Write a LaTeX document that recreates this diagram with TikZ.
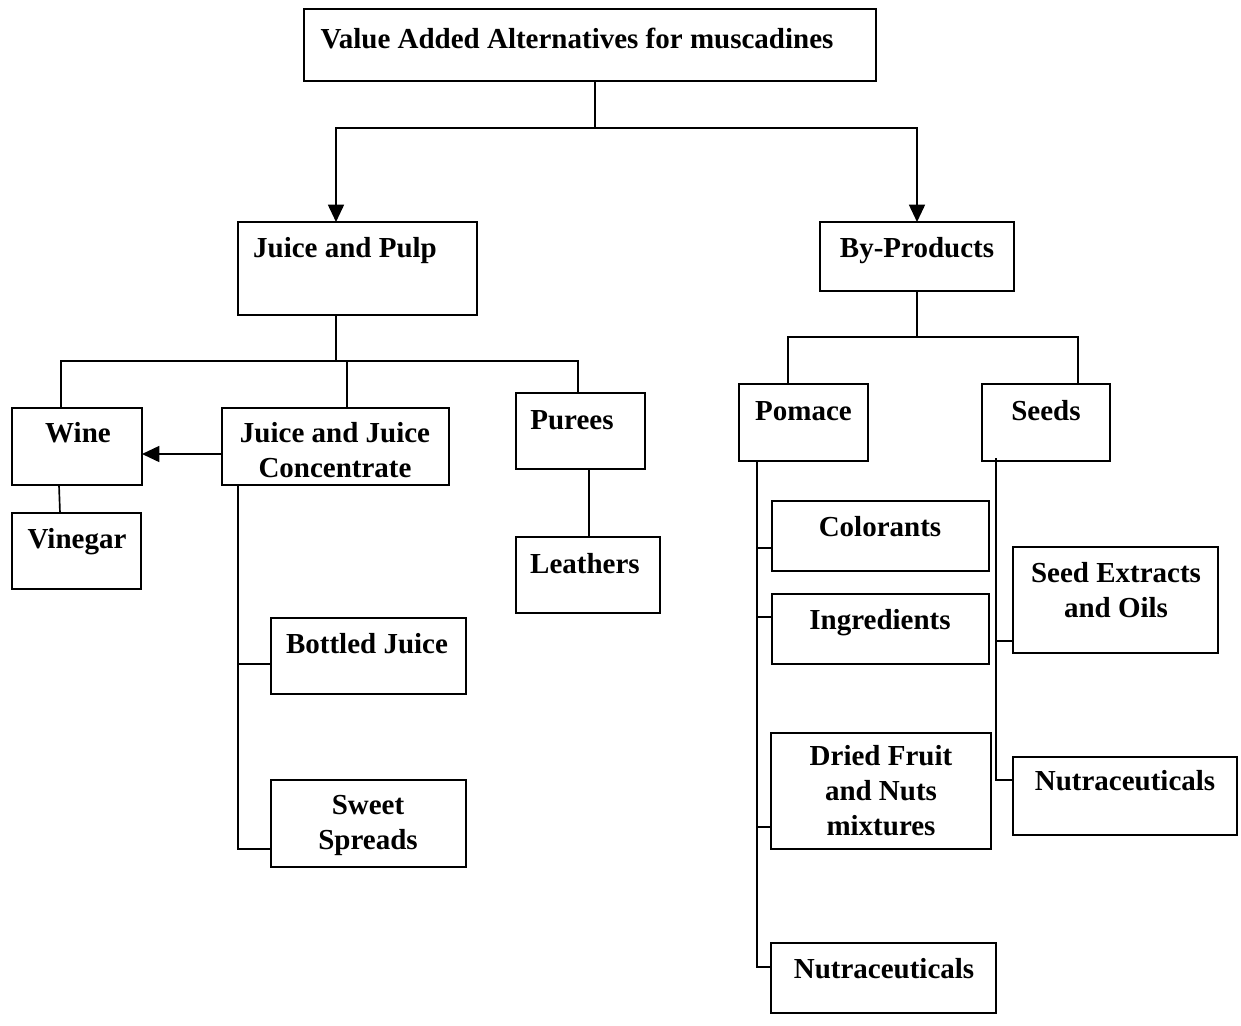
\documentclass[tikz,border=0pt]{standalone}
\usepackage{fontspec}
\setmainfont{Liberation Serif}
\usetikzlibrary{calc,arrows.meta}

% box from its corner coordinates (x1,y1,x2,y2), given in px-like units
\newcommand\mkbox[5]{%
  \node[chartbox, minimum width={(#4-#2)*0.75pt}, minimum height={(#5-#3)*0.75pt}]
    (#1) at ({(#2+#4)/2},{(#3+#5)/2}) {};}

\begin{document}
\begin{tikzpicture}[x=0.75pt, y=-0.75pt,
  chartbox/.style={draw, line width=1.7pt, rectangle, inner sep=0pt, outer sep=0pt},
  lbl/.style={font=\fontsize{21.75}{26.25}\selectfont\bfseries, inner sep=0pt, anchor=base, align=center},
  conn/.style={line width=1.25pt},
  arr/.style={conn, -{Triangle[length=13pt, width=12pt]}}]

\useasboundingbox (0,0) rectangle (1241,1025);

% ---- boxes ----
\mkbox{top}{304}{9}{876}{81}
\mkbox{jp}{238}{222}{477}{315}
\mkbox{bp}{820}{222}{1014}{291}
\mkbox{wine}{12}{408}{142}{485}
\mkbox{vinegar}{12}{513}{141}{589}
\mkbox{jjc}{222}{408}{449}{485}
\mkbox{purees}{516}{393}{645}{469}
\mkbox{leathers}{516}{537}{660}{613}
\mkbox{bottled}{271}{618}{466}{694}
\mkbox{sweet}{271}{780}{466}{867}
\mkbox{pomace}{739}{384}{868}{461}
\mkbox{seeds}{982}{384}{1110}{461}
\mkbox{colorants}{772}{501}{989}{571}
\mkbox{ingredients}{772}{594}{989}{664}
\mkbox{dried}{771}{733}{991}{849}
\mkbox{nutraA}{771}{943}{996}{1013}
\mkbox{extracts}{1013}{547}{1218}{653}
\mkbox{nutraB}{1013}{757}{1237}{835}

% ---- labels (placed at their last baseline) ----
\node[lbl] (top-t) at (577,48) {Value Added Alternatives for muscadines};
\node[lbl] (jp-t) at (345,257) {Juice and Pulp};
\node[lbl] (bp-t) at (917,257) {By-Products};
\node[lbl] (wine-t) at (78,442) {Wine};
\node[lbl] (vinegar-t) at (77,548) {Vinegar};
\node[lbl] (jjc-t) at (335,477) {Juice and Juice\\Concentrate};
\node[lbl] (purees-t) at (572,429) {Purees};
\node[lbl] (leathers-t) at (585,573) {Leathers};
\node[lbl] (bottled-t) at (367,653) {Bottled Juice};
\node[lbl] (sweet-t) at (368,849) {Sweet\\Spreads};
\node[lbl] (pomace-t) at (803.5,420) {Pomace};
\node[lbl] (seeds-t) at (1046,420) {Seeds};
\node[lbl] (colorants-t) at (880,536) {Colorants};
\node[lbl] (ingredients-t) at (880,629) {Ingredients};
\node[lbl] (dried-t) at (881,835) {Dried Fruit\\and Nuts\\mixtures};
\node[lbl] (nutraA-t) at (884,978) {Nutraceuticals};
\node[lbl] (extracts-t) at (1116,617) {Seed Extracts\\and Oils};
\node[lbl] (nutraB-t) at (1125,790) {Nutraceuticals};

% ---- top level split ----
\coordinate (topbar) at ($(top.south)+(5,47)$);
\draw[conn] ($(top.south)+(5,0)$) -- (topbar);
\draw[arr] (topbar) -| ($(jp.north west)+(98,0)$);
\draw[arr] (topbar) -| (bp.north);

% ---- juice and pulp branch ----
\coordinate (jpbar) at ($(jp.south west)+(98,46)$);
\draw[conn] ($(jp.south west)+(98,0)$) -- (jpbar);
\draw[conn] ($(wine.north west)+(49,0)$) |- (jpbar) -| ($(purees.north west)+(62,0)$);
\draw[conn] ($(jjc.north west)+(125,0)$) -- ($(jjc.north west)+(125,-47)$);
\draw[arr] ($(jjc.west)+(0,7.5)$) -- ($(wine.east)+(0,7.5)$);
\draw[conn] ($(wine.south west)+(47,0)$) -- ($(vinegar.north west)+(48,0)$);
\draw[conn] ($(purees.south west)+(73,0)$) -- ($(leathers.north west)+(73,0)$);

\coordinate (jjcdown) at ($(jjc.south west)+(16,0)$);
\draw[conn] (jjcdown) |- ($(sweet.west)+(0,25.5)$);
\draw[conn] (jjcdown |- {$(bottled.west)+(0,8)$}) -- ($(bottled.west)+(0,8)$);

% ---- by-products branch ----
\coordinate (bpbar) at ($(bp.south)+(0,46)$);
\draw[conn] (bp.south) -- (bpbar);
\draw[conn] ($(pomace.north west)+(49,0)$) |- (bpbar) -| ($(seeds.north west)+(96,0)$);

\coordinate (pomdown) at ($(pomace.south west)+(18,0)$);
\draw[conn] (pomdown) |- ($(nutraA.west)+(0,-11)$);
\draw[conn] (pomdown |- {$(colorants.west)+(0,12)$}) -- ($(colorants.west)+(0,12)$);
\draw[conn] (pomdown |- {$(ingredients.west)+(0,-12)$}) -- ($(ingredients.west)+(0,-12)$);
\draw[conn] (pomdown |- {$(dried.west)+(0,36)$}) -- ($(dried.west)+(0,36)$);

\coordinate (seeddown) at ($(seeds.south west)+(14,-3)$);
\draw[conn] (seeddown) |- ($(nutraB.west)+(0,-16)$);
\draw[conn] (seeddown |- {$(extracts.west)+(0,41)$}) -- ($(extracts.west)+(0,41)$);

\end{tikzpicture}
\end{document}
